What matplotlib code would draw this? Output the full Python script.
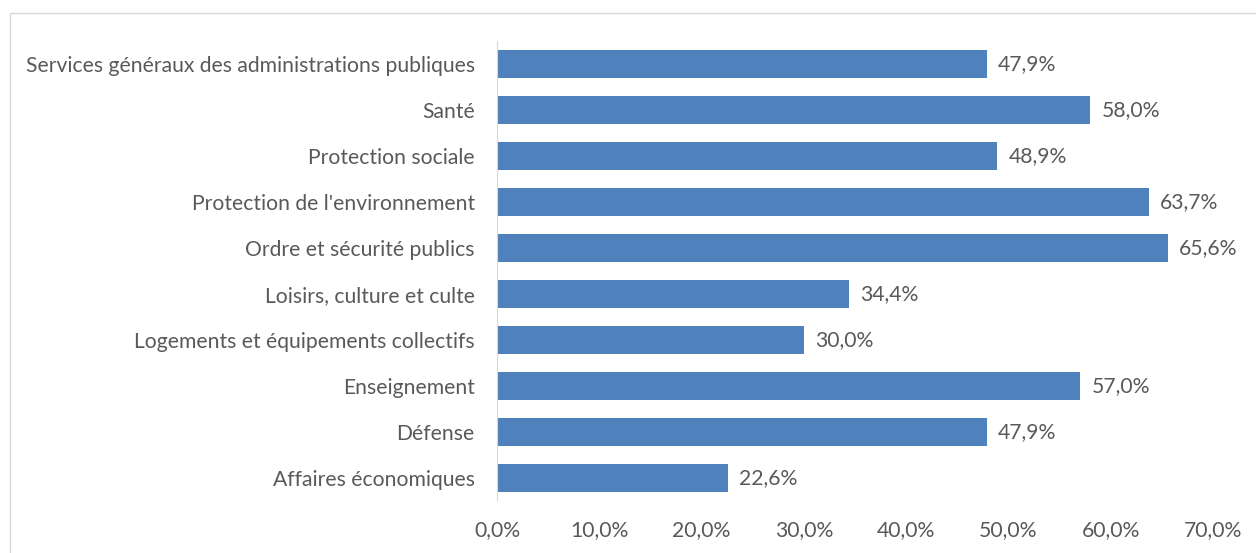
import matplotlib.pyplot as plt
from matplotlib.patches import Rectangle

plt.rcParams['font.family'] = ['Lato', 'DejaVu Sans']

categories = [
    "Services généraux des administrations publiques",
    "Santé",
    "Protection sociale",
    "Protection de l'environnement",
    "Ordre et sécurité publics",
    "Loisirs, culture et culte",
    "Logements et équipements collectifs",
    "Enseignement",
    "Défense",
    "Affaires économiques",
]
values = [47.9, 58.0, 48.9, 63.7, 65.6, 34.4, 30.0, 57.0, 47.9, 22.6]

text_color = "#595959"
bar_color = "#4F81BD"
fs = 15.2

fig = plt.figure(figsize=(12.56, 5.53), dpi=100)
ax = fig.add_axes([497 / 1256, 1 - 501 / 553, (1213 - 497) / 1256, 460 / 553])

# cadre gris autour du graphique
fig.patches.append(Rectangle((10 / 1256, -0.05), 1.1, 1 - 13 / 553 + 0.05,
                             transform=fig.transFigure, fill=False,
                             edgecolor="#d9d9d9", linewidth=1))

y = list(range(len(categories)))[::-1]
ax.barh(y, values, height=0.59, color=bar_color)

for yi, v in zip(y, values):
    ax.text(v + 1.1, yi, f"{v:.1f}%".replace(".", ","), va="center", ha="left",
            fontsize=fs, color=text_color)

ax.set_xlim(0, 70)
ax.set_ylim(-0.5, len(categories) - 0.5)
ax.set_yticks(y)
ax.set_yticklabels(categories, fontsize=fs, color=text_color)
ax.set_xticks(range(0, 71, 10))
ax.set_xticklabels([f"{t:.1f}%".replace(".", ",") for t in range(0, 71, 10)],
                   fontsize=fs, color=text_color)
ax.tick_params(axis="both", length=0)
ax.tick_params(axis="y", pad=16)
ax.tick_params(axis="x", pad=14)

for side in ["top", "right", "bottom"]:
    ax.spines[side].set_visible(False)
ax.spines["left"].set_color("#d9d9d9")

fig.savefig("out.png", dpi=100)
